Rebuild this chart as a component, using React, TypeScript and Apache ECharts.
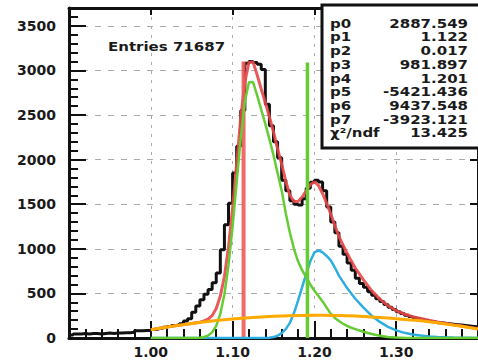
import React, { useEffect, useRef } from "react";
import * as echarts from "echarts";

// Histogram: bin lower edges start at 0.90, width 0.005 (100 bins)
const binStart = 0.9;
const binWidth = 0.005;
const histValues = [
  35, 45, 45, 50, 45, 50, 50, 45, 50, 55, 50, 55, 55, 60, 60, 65, 80, 80, 85, 85,
  95, 100, 110, 120, 130, 140, 145, 160, 190, 215, 290, 360, 430, 490, 545, 620, 730, 990, 1270, 1510,
  1850, 2150, 2550, 3080, 3100, 3090, 3070, 3010, 2620, 2380, 2200, 2020, 1770, 1650, 1540, 1500, 1490, 1560, 1680, 1745,
  1770, 1750, 1650, 1470, 1300, 1180, 1030, 940, 840, 760, 670, 610, 570, 520, 480, 440, 410, 375, 345, 320,
  295, 275, 255, 240, 228, 215, 205, 195, 185, 178, 170, 165, 160, 155, 150, 145, 140, 135, 130, 125,
];

// Fit curves sampled on a common x grid
const curveX = [
  1.0, 1.01, 1.02, 1.03, 1.04, 1.05,
  1.055, 1.06, 1.065, 1.07, 1.075, 1.08, 1.085, 1.09, 1.095, 1.1,
  1.105, 1.11, 1.115, 1.12, 1.125, 1.13, 1.135, 1.14, 1.145, 1.15,
  1.155, 1.16, 1.165, 1.17, 1.175, 1.18, 1.185, 1.19, 1.195, 1.2,
  1.205, 1.21, 1.215, 1.22, 1.225, 1.23, 1.235, 1.24, 1.245, 1.25,
  1.26, 1.27, 1.28, 1.29, 1.3, 1.31, 1.32, 1.33, 1.34, 1.35, 1.36, 1.37, 1.38, 1.39, 1.4,
];
const totalFit = [
  93, 108, 123, 137, 150, 163,
  170, 178, 192, 212, 252, 330, 470, 690, 1020, 1460,
  1960, 2470, 2870, 3090, 3095, 2950, 2790, 2640, 2480, 2310,
  2120, 1950, 1760, 1600, 1530, 1530, 1580, 1650, 1720, 1750,
  1710, 1620, 1510, 1390, 1260, 1140, 1040, 950, 865, 785,
  651, 531, 436, 362, 307, 269, 240, 218, 198, 181, 165, 149, 134, 119, 105,
];
const signal1 = [
  0, 0, 0, 0, 0, 0,
  1, 4, 11, 27, 63, 137, 271, 491, 819, 1250,
  1751, 2250, 2652, 2867, 2870, 2720, 2560, 2400, 2230, 2050,
  1850, 1650, 1400, 1180, 1000, 860, 760, 680, 600, 530,
  470, 410, 340, 270, 225, 190, 160, 135, 115, 100,
  70, 45, 25, 12, 5, 2, 0, 0, 0, 0, 0, 0, 0, 0, 0,
];
const signal2 = [
  0, 0, 0, 0, 0, 0,
  0, 0, 0, 0, 0, 0, 0, 0, 0, 0,
  0, 0, 0, 0, 0, 0, 0, 0, 3, 10,
  25, 55, 100, 170, 280, 420, 570, 720, 860, 960,
  982, 960, 920, 870, 790, 700, 630, 560, 500, 440,
  340, 250, 180, 125, 85, 58, 40, 27, 18, 12, 8, 5, 3, 2, 1,
];
const bkgX = [1.0, 1.02, 1.04, 1.06, 1.08, 1.1, 1.12, 1.14, 1.16, 1.18, 1.2, 1.22, 1.24, 1.26, 1.28, 1.3, 1.32, 1.34, 1.36, 1.38, 1.4];
const background = [93, 123, 150, 174, 195, 213, 228, 239, 247, 252, 254, 253, 249, 242, 231, 217, 201, 181, 157, 131, 102];

// Vertical marker lines
const markerX = [1.1134, 1.1915];
const markerTop = [3100, 3090];
const markerColors = ["#ee5a5a", "#66cc33"];

// Stats box
const statNames = ["p0", "p1", "p2", "p3", "p4", "p5", "p6", "p7", "χ²/ndf"];
const statValues = ["2887.549", "1.122", "0.017", "981.897", "1.201", "-5421.436", "9437.548", "-3923.121", "13.425"];
const entriesText = "Entries 71687";

const FONT = "DejaVu Sans";

export default function App() {
  const ref = useRef<HTMLDivElement>(null);
  useEffect(() => {
    const chart = echarts.init(ref.current!, null, { renderer: "svg" });
    const histData: number[][] = histValues.map((v, i) => [+(binStart + i * binWidth).toFixed(3), v]);
    histData.push([+(binStart + histValues.length * binWidth).toFixed(3), histValues[histValues.length - 1]]);
    const pair = (ys: number[]) => curveX.map((x, i) => [x, ys[i]]);

    const lineBase = { type: "line", symbol: "none", showSymbol: false, silent: true };

    const graphics: any[] = [
      {
        type: "rect",
        z: 100,
        shape: { x: 322, y: 5, width: 170, height: 143 },
        style: { fill: "#fff", stroke: "#111", lineWidth: 3 },
      },
      {
        type: "text",
        z: 101,
        x: 108,
        y: 47,
        scaleX: 1.25,
        style: { text: entriesText, fontSize: 12, fontWeight: "bold", fontFamily: FONT, fill: "#1a1a1a", align: "left", verticalAlign: "middle" },
      },
    ];
    statNames.forEach((n, i) => {
      const y = 23.3 + i * 13.7;
      graphics.push({
        type: "text", z: 101, x: 330, y, scaleX: 1.25,
        style: { text: n, fontSize: 12, fontWeight: "bold", fontFamily: FONT, fill: "#1a1a1a", align: "left", verticalAlign: "middle" },
      });
      graphics.push({
        type: "text", z: 101, x: 468, y, scaleX: 1.25,
        style: { text: statValues[i], fontSize: 12, fontWeight: "bold", fontFamily: FONT, fill: "#1a1a1a", align: "right", verticalAlign: "middle" },
      });
    });

    const labelStyle = { fontSize: 14, fontWeight: "bold", fontFamily: FONT, color: "#1a1a1a" };

    const option: any = {
      animation: false,
      backgroundColor: "#fff",
      grid: { left: 69, right: -1, top: 8, bottom: 26, containLabel: false },
      xAxis: [
        {
          type: "value", position: "bottom", min: 0.9, max: 1.4, interval: 0.1,
          axisLine: { onZero: false, lineStyle: { color: "#111", width: 3 } },
          axisTick: { inside: true, length: 17, lineStyle: { color: "#111", width: 2 } },
          minorTick: { show: true, splitNumber: 5, length: 9, lineStyle: { color: "#111", width: 2 } },
          axisLabel: { ...labelStyle, margin: 7, showMinLabel: false, showMaxLabel: false, formatter: (v: number) => v.toFixed(2) },
          splitLine: { show: true, lineStyle: { color: "#aaa", width: 1, type: [3, 6] } },
        },
        {
          type: "value", position: "top", min: 0.9, max: 1.4, interval: 0.1,
          axisLine: { onZero: false, lineStyle: { color: "#111", width: 3 } },
          axisTick: { inside: true, length: 7, lineStyle: { color: "#111", width: 2 } },
          axisLabel: { show: false },
          splitLine: { show: false },
        },
      ],
      yAxis: [
        {
          type: "value", position: "left", min: 0, max: 3700, interval: 500,
          axisLine: { show: true, onZero: false, lineStyle: { color: "#111", width: 3 } },
          axisTick: { show: true, inside: true, length: 17, lineStyle: { color: "#111", width: 2 } },
          minorTick: { show: true, splitNumber: 5, length: 9, lineStyle: { color: "#111", width: 2 } },
          axisLabel: { ...labelStyle, margin: 13, showMaxLabel: false, formatter: (v: number) => String(v) },
          splitLine: { show: true, lineStyle: { color: "#aaa", width: 1, type: [6, 7] } },
        },
        {
          type: "value", position: "right", min: 0, max: 3700, interval: 500,
          axisLine: { show: true, onZero: false, lineStyle: { color: "#111", width: 3 } },
          axisTick: { show: true, inside: true, length: 8, lineStyle: { color: "#111", width: 2 } },
          axisLabel: { show: false },
          splitLine: { show: false },
        },
      ],
      series: [
        { ...lineBase, name: "hist", data: histData, step: "end", lineStyle: { color: "#111", width: 3 } },
        { ...lineBase, name: "total", data: pair(totalFit), lineStyle: { color: "#e84848", width: 3, opacity: 0.9 } },
        { ...lineBase, name: "markRed", data: [[markerX[0], 0], [markerX[0], markerTop[0]]], lineStyle: { color: markerColors[0], width: 4, opacity: 0.9 } },
        { ...lineBase, name: "sig2", data: pair(signal2), lineStyle: { color: "#2eaee0", width: 2.5 } },
        { ...lineBase, name: "sig1", data: pair(signal1), lineStyle: { color: "#66cc33", width: 2.5 } },
        { ...lineBase, name: "markGreen", data: [[markerX[1], 0], [markerX[1], markerTop[1]]], lineStyle: { color: markerColors[1], width: 3.5 } },
        { ...lineBase, name: "bkg", data: bkgX.map((x, i) => [x, background[i]]), smooth: 0.3, lineStyle: { color: "#ffaa00", width: 3 } },
      ],
      graphic: graphics,
    };
    chart.setOption(option);
    return () => chart.dispose();
  }, []);
  return <div ref={ref} style={{ position: "fixed", left: 0, top: 0, width: 478, height: 364, background: "#fff" }} />;
}
